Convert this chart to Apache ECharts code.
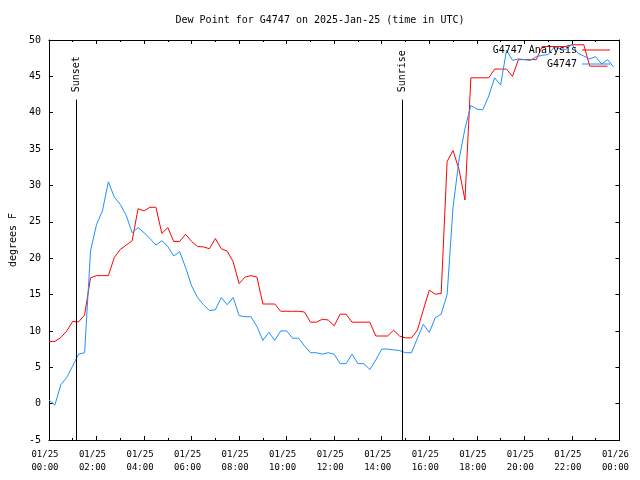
<!DOCTYPE html>
<html>
<head>
<meta charset="utf-8">
<script src="https://cdn.jsdelivr.net/npm/echarts@6/dist/echarts.min.js"></script>
<style>html,body{margin:0;padding:0;background:#fff}#c{width:640px;height:480px}</style>
</head>
<body>
<div id="c"></div>
<script>
// ---- data ----
const titleText = 'Dew Point for G4747 on 2025-Jan-25 (time in UTC)';
const yAxisName = 'degrees F';
const seriesNames = ['G4747 Analysis', 'G4747'];
const sampleStepHours = 0.25; // one observation every 15 minutes from 00:00 UTC
const analysisValues = [
  8.55, 8.55, 9.1, 10.0, 11.3, 11.25, 12.2, 17.3, 17.6, 17.6,
  17.6, 20.1, 21.2, 21.8, 22.4, 26.8, 26.5, 27.0, 27.0, 23.4,
  24.2, 22.3, 22.3, 23.3, 22.3, 21.6, 21.55, 21.3, 22.7, 21.3,
  20.96, 19.5, 16.5, 17.4, 17.6, 17.4, 13.7, 13.7, 13.7, 12.7,
  12.7, 12.7, 12.7, 12.6, 11.2, 11.2, 11.6, 11.5, 10.7, 12.3,
  12.3, 11.2, 11.2, 11.2, 11.2, 9.3, 9.3, 9.3, 10.1, 9.3,
  9.05, 9.05, 10.1, 12.9, 15.6, 15.05, 15.15, 33.3, 34.8, 32.2,
  28.0, 44.8, 44.8, 44.8, 44.8, 46.0, 46.0, 46.0, 45.0, 47.3,
  47.3, 47.3, 47.3, 49.1, 49.1, 49.1, 49.1, 49.1, 49.35, 49.35,
  49.35, 46.4, 46.4, 46.4, 46.4
];
const stationValues = [
  0.5, -0.2, 2.6, 3.6, 5.2, 6.8, 7.0, 21.0, 24.6, 26.5,
  30.5, 28.4, 27.4, 25.9, 23.5, 24.2, 23.5, 22.7, 21.8, 22.4,
  21.6, 20.3, 20.9, 18.7, 16.2, 14.6, 13.6, 12.8, 12.9, 14.6,
  13.6, 14.6, 12.1, 11.95, 11.95, 10.6, 8.7, 9.8, 8.7, 10.0,
  10.0, 9.0, 9.0, 7.95, 7.0, 7.0, 6.8, 7.0, 6.8, 5.5,
  5.5, 6.8, 5.5, 5.5, 4.7, 6.0, 7.5, 7.5, 7.4, 7.3,
  7.0, 7.0, 9.0, 10.9, 9.8, 11.8, 12.3, 15.0, 27.0, 33.5,
  37.8, 41.0, 40.5, 40.4, 42.3, 44.8, 43.8, 48.6, 47.2, 47.4,
  47.3, 47.2, 47.7, 47.9, 48.0, 49.0, 48.8, 48.7, 49.4, 48.2,
  47.8, 47.4, 47.7, 46.7, 47.3, 46.3
];
const xTickLabels = [
  '01/25\n00:00', '01/25\n02:00', '01/25\n04:00', '01/25\n06:00', '01/25\n08:00',
  '01/25\n10:00', '01/25\n12:00', '01/25\n14:00', '01/25\n16:00', '01/25\n18:00',
  '01/25\n20:00', '01/25\n22:00', '01/26\n00:00'
];
const eventNames = ['Sunset', 'Sunrise'];
const eventHours = [1.16, 14.87];
const eventLineTop = 41.8;
const eventLabelBase = 42.8;
const yMin = -5, yMax = 50, yStep = 5;
const xMin = 0, xMax = 24, xStep = 2;

// ---- build ----
const toPairs = vals => vals.map((v, i) => [i * sampleStepHours, v]);
const FONT = 'DejaVu Sans Mono';

const chart = echarts.init(document.getElementById('c'), null, {renderer: 'canvas'});

const axisCommonX = {
  type: 'value', min: xMin, max: xMax, interval: xStep,
  axisLine: {show: true, onZero: false, lineStyle: {color: '#000', width: 1}},
  axisTick: {show: true, inside: true, length: 4, lineStyle: {color: '#000'}},
  minorTick: {show: true, splitNumber: 2, length: 2, lineStyle: {color: '#000'}},
  splitLine: {show: false}, minorSplitLine: {show: false}
};
const axisCommonY = {
  type: 'value', min: yMin, max: yMax, interval: yStep,
  axisLine: {show: true, onZero: false, lineStyle: {color: '#000', width: 1}},
  axisTick: {show: true, inside: true, length: 4, lineStyle: {color: '#000'}},
  splitLine: {show: false}
};

chart.setOption({
  animation: false,
  backgroundColor: '#fff',
  title: {
    text: titleText, left: 'center', top: 10,
    textStyle: {fontFamily: FONT, fontSize: 10, fontWeight: 'normal', color: '#000'}
  },
  legend: {
    data: seriesNames.map(n => ({name: n, icon: 'rect'})),
    orient: 'vertical', right: 25, top: 40, align: 'right',
    itemWidth: 28, itemHeight: 1, itemGap: 4,
    textStyle: {fontFamily: FONT, fontSize: 10, color: '#000'},
    selectedMode: false
  },
  grid: {left: 47, right: 20, top: 40, bottom: 40, show: false},
  xAxis: [
    Object.assign({}, axisCommonX, {
      position: 'bottom',
      axisLabel: {
        show: true, margin: 8, fontFamily: FONT, fontSize: 9, color: '#000', lineHeight: 13,
        padding: [0, 8, 0, 0],
        formatter: v => xTickLabels[Math.round((v - xMin) / xStep)] || ''
      }
    }),
    Object.assign({}, axisCommonX, {position: 'top', axisLabel: {show: false}})
  ],
  yAxis: [
    Object.assign({}, axisCommonY, {
      position: 'left',
      name: yAxisName, nameLocation: 'middle', nameGap: 30, nameRotate: 90,
      nameTextStyle: {fontFamily: FONT, fontSize: 10, color: '#000'},
      axisLabel: {show: true, margin: 8, fontFamily: FONT, fontSize: 10, color: '#000'}
    }),
    Object.assign({}, axisCommonY, {position: 'right', axisLabel: {show: false}})
  ],
  series: [
    {
      name: seriesNames[0], type: 'line', data: toPairs(analysisValues),
      symbol: 'none', color: '#ff0000', lineStyle: {width: 1, color: '#ff0000'},
      markLine: {
        silent: true, symbol: 'none', animation: false,
        lineStyle: {color: '#000', width: 1, type: 'solid', opacity: 1},
        label: {show: false},
        emphasis: {disabled: true},
        data: eventHours.map(h => [{coord: [h, yMin]}, {coord: [h, eventLineTop]}])
      }
    },
    {
      name: seriesNames[1], type: 'line', data: toPairs(stationValues),
      symbol: 'none', color: '#1e90ff', lineStyle: {width: 1, color: '#1e90ff'}
    },
    {
      name: 'events', type: 'scatter', symbolSize: 0, silent: true,
      itemStyle: {color: '#000', opacity: 1},
      data: eventHours.map((h, i) => [h, eventLabelBase, eventNames[i]]),
      label: {
        show: true, position: 'inside', rotate: 90, align: 'left', verticalAlign: 'middle',
        fontFamily: FONT, fontSize: 10, color: '#000', opacity: 1,
        textBorderWidth: 0,
        formatter: p => p.value[2]
      }
    }
  ]
});
</script>
</body>
</html>
